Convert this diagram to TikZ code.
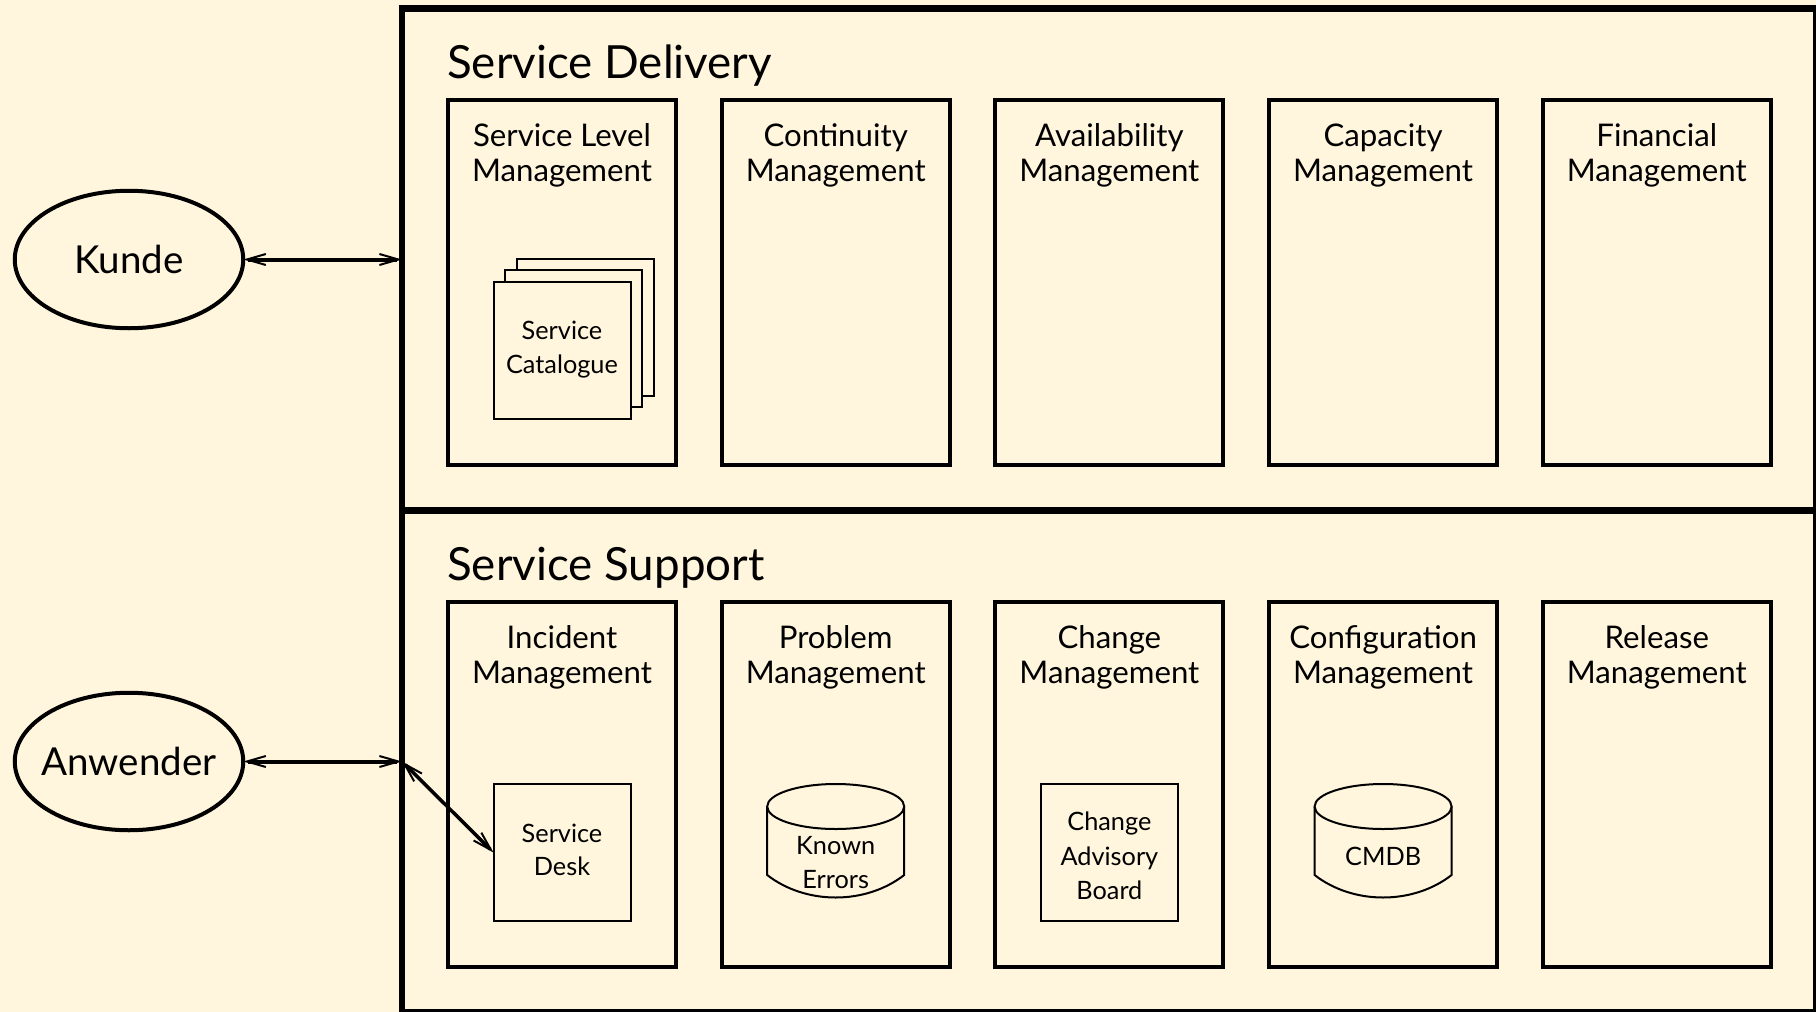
\documentclass[tikz,border=0pt]{standalone}
\usepackage{fontspec}
\setmainfont{Lato}
\usetikzlibrary{arrows.meta,shapes.geometric}
\definecolor{cream}{HTML}{FFF6DD}
\newcommand{\lsa}{\rule[-10.5pt]{0pt}{33.7pt}}
\newcommand{\lsb}{\rule[-4.5pt]{0pt}{33.7pt}}
\tikzset{
  frame/.style={draw=black,line width=6.5pt,fill=cream,minimum width=1414pt,minimum height=502pt,anchor=north west,outer sep=0pt},
  procbox/.style={draw=black,line width=4pt,fill=cream,minimum width=228pt,minimum height=365pt,anchor=north west,outer sep=0pt},
  smallbox/.style={draw=black,line width=2pt,fill=cream,minimum width=137pt,minimum height=137pt,outer sep=0pt,font=\fontsize{25.3}{33.7}\selectfont,align=center,inner sep=0pt},
  actor/.style={draw=black,line width=4pt,ellipse,fill=cream,minimum width=228.5pt,minimum height=137.5pt,outer sep=0pt,font=\fontsize{38.5}{44}\selectfont,inner xsep=-50pt,inner ysep=-10pt},
  proclabel/.style={font=\fontsize{31.2}{35}\selectfont,align=center,anchor=north,inner sep=0pt},
  grouptitle/.style={font=\fontsize{45.7}{50}\selectfont,anchor=base west,inner sep=0pt},
  dblabel/.style={font=\fontsize{25.3}{33.7}\selectfont,align=center,inner sep=0pt},
  dbline/.style={draw=black,line width=2pt,fill=cream},
  link/.style={line width=4pt,{Straight Barb[length=19pt,width=11pt,line width=2pt]}-{Straight Barb[length=19pt,width=11pt,line width=2pt]}},
}
\newcommand{\dbshape}[4]{%
  \draw[dbline] (#1-68.5,806.5) -- (#1-68.5,875) .. controls (#1-30,905) and (#1+30,905) .. (#1+68.5,875) -- (#1+68.5,806.5);
  \draw[dbline] (#1,806.5) ellipse [x radius=68.5pt,y radius=22.5pt];
  \node[dblabel] (#2) at (#1,#3) {#4};
}
\begin{document}
\begin{tikzpicture}[x=1pt,y=-1pt]
\useasboundingbox (0,0) rectangle (1816,1012);
\fill[cream] (0,0) rectangle (1816,1012);
\node[frame] (delivery) at (402,8.3) {};
\node[frame] (support) at (402,510.3) {};
\node[grouptitle] (tdelivery) at (447,78) {Service Delivery};
\node[grouptitle] (tsupport) at (447,580) {Service Support};
% upper row
\node[procbox] (slm) at (448,99.5) {};
\node[procbox] (conm) at (721.7,99.5) {};
\node[procbox] (avm) at (995.4,99.5) {};
\node[procbox] (capm) at (1269.1,99.5) {};
\node[procbox] (finm) at (1542.8,99.5) {};
\node[proclabel] (lslm) at (562,123.5) {Service Level\\Management};
\node[proclabel] (lconm) at (835.7,123.5) {Continuity\\Management};
\node[proclabel] (lavm) at (1109.4,123.5) {Availability\\Management};
\node[proclabel] (lcapm) at (1383.1,123.5) {Capacity\\Management};
\node[proclabel] (lfinm) at (1656.8,123.5) {Financial\\Management};
% lower row
\node[procbox] (incm) at (448,601.5) {};
\node[procbox] (prom) at (721.7,601.5) {};
\node[procbox] (chgm) at (995.4,601.5) {};
\node[procbox] (cfgm) at (1269.1,601.5) {};
\node[procbox] (relm) at (1542.8,601.5) {};
\node[proclabel] (lincm) at (562,625.5) {Incident\\Management};
\node[proclabel] (lprom) at (835.7,625.5) {Problem\\Management};
\node[proclabel] (lchgm) at (1109.4,625.5) {Change\\Management};
\node[proclabel] (lcfgm) at (1383.1,625.5) {Configuration\\Management};
\node[proclabel] (lrelm) at (1656.8,625.5) {Release\\Management};
% catalogue stack
\node[smallbox] (cat3) at (585.2,327.2) {};
\node[smallbox] (cat2) at (573.7,338.6) {};
\node[smallbox] (cat1) at (562,350.4) {Service\lsa\\Catalogue\lsa};
% small boxes
\node[smallbox] (desk) at (562,852.5) {Service\lsa\\Desk\lsa};
\node[smallbox] (cab) at (1109.4,852.5) {Change\lsb\\Advisory\lsb\\Board\lsb};
\dbshape{835.7}{known}{862.5}{Known\\Errors}
\dbshape{1383.1}{cmdb}{856}{CMDB}
% actors
\node[actor] (kunde) at (129,259.5) {Kunde};
\node[actor] (anwender) at (129,761.5) {Anwender};
\draw[link] (kunde.east) -- (kunde.east -| delivery.west);
\draw[link] (anwender.east) -- (anwender.east -| support.west);
\coordinate (port) at (anwender.east -| support.west);
\draw[link,line width=3.5pt] (port) -- (desk.west);
\end{tikzpicture}
\end{document}
